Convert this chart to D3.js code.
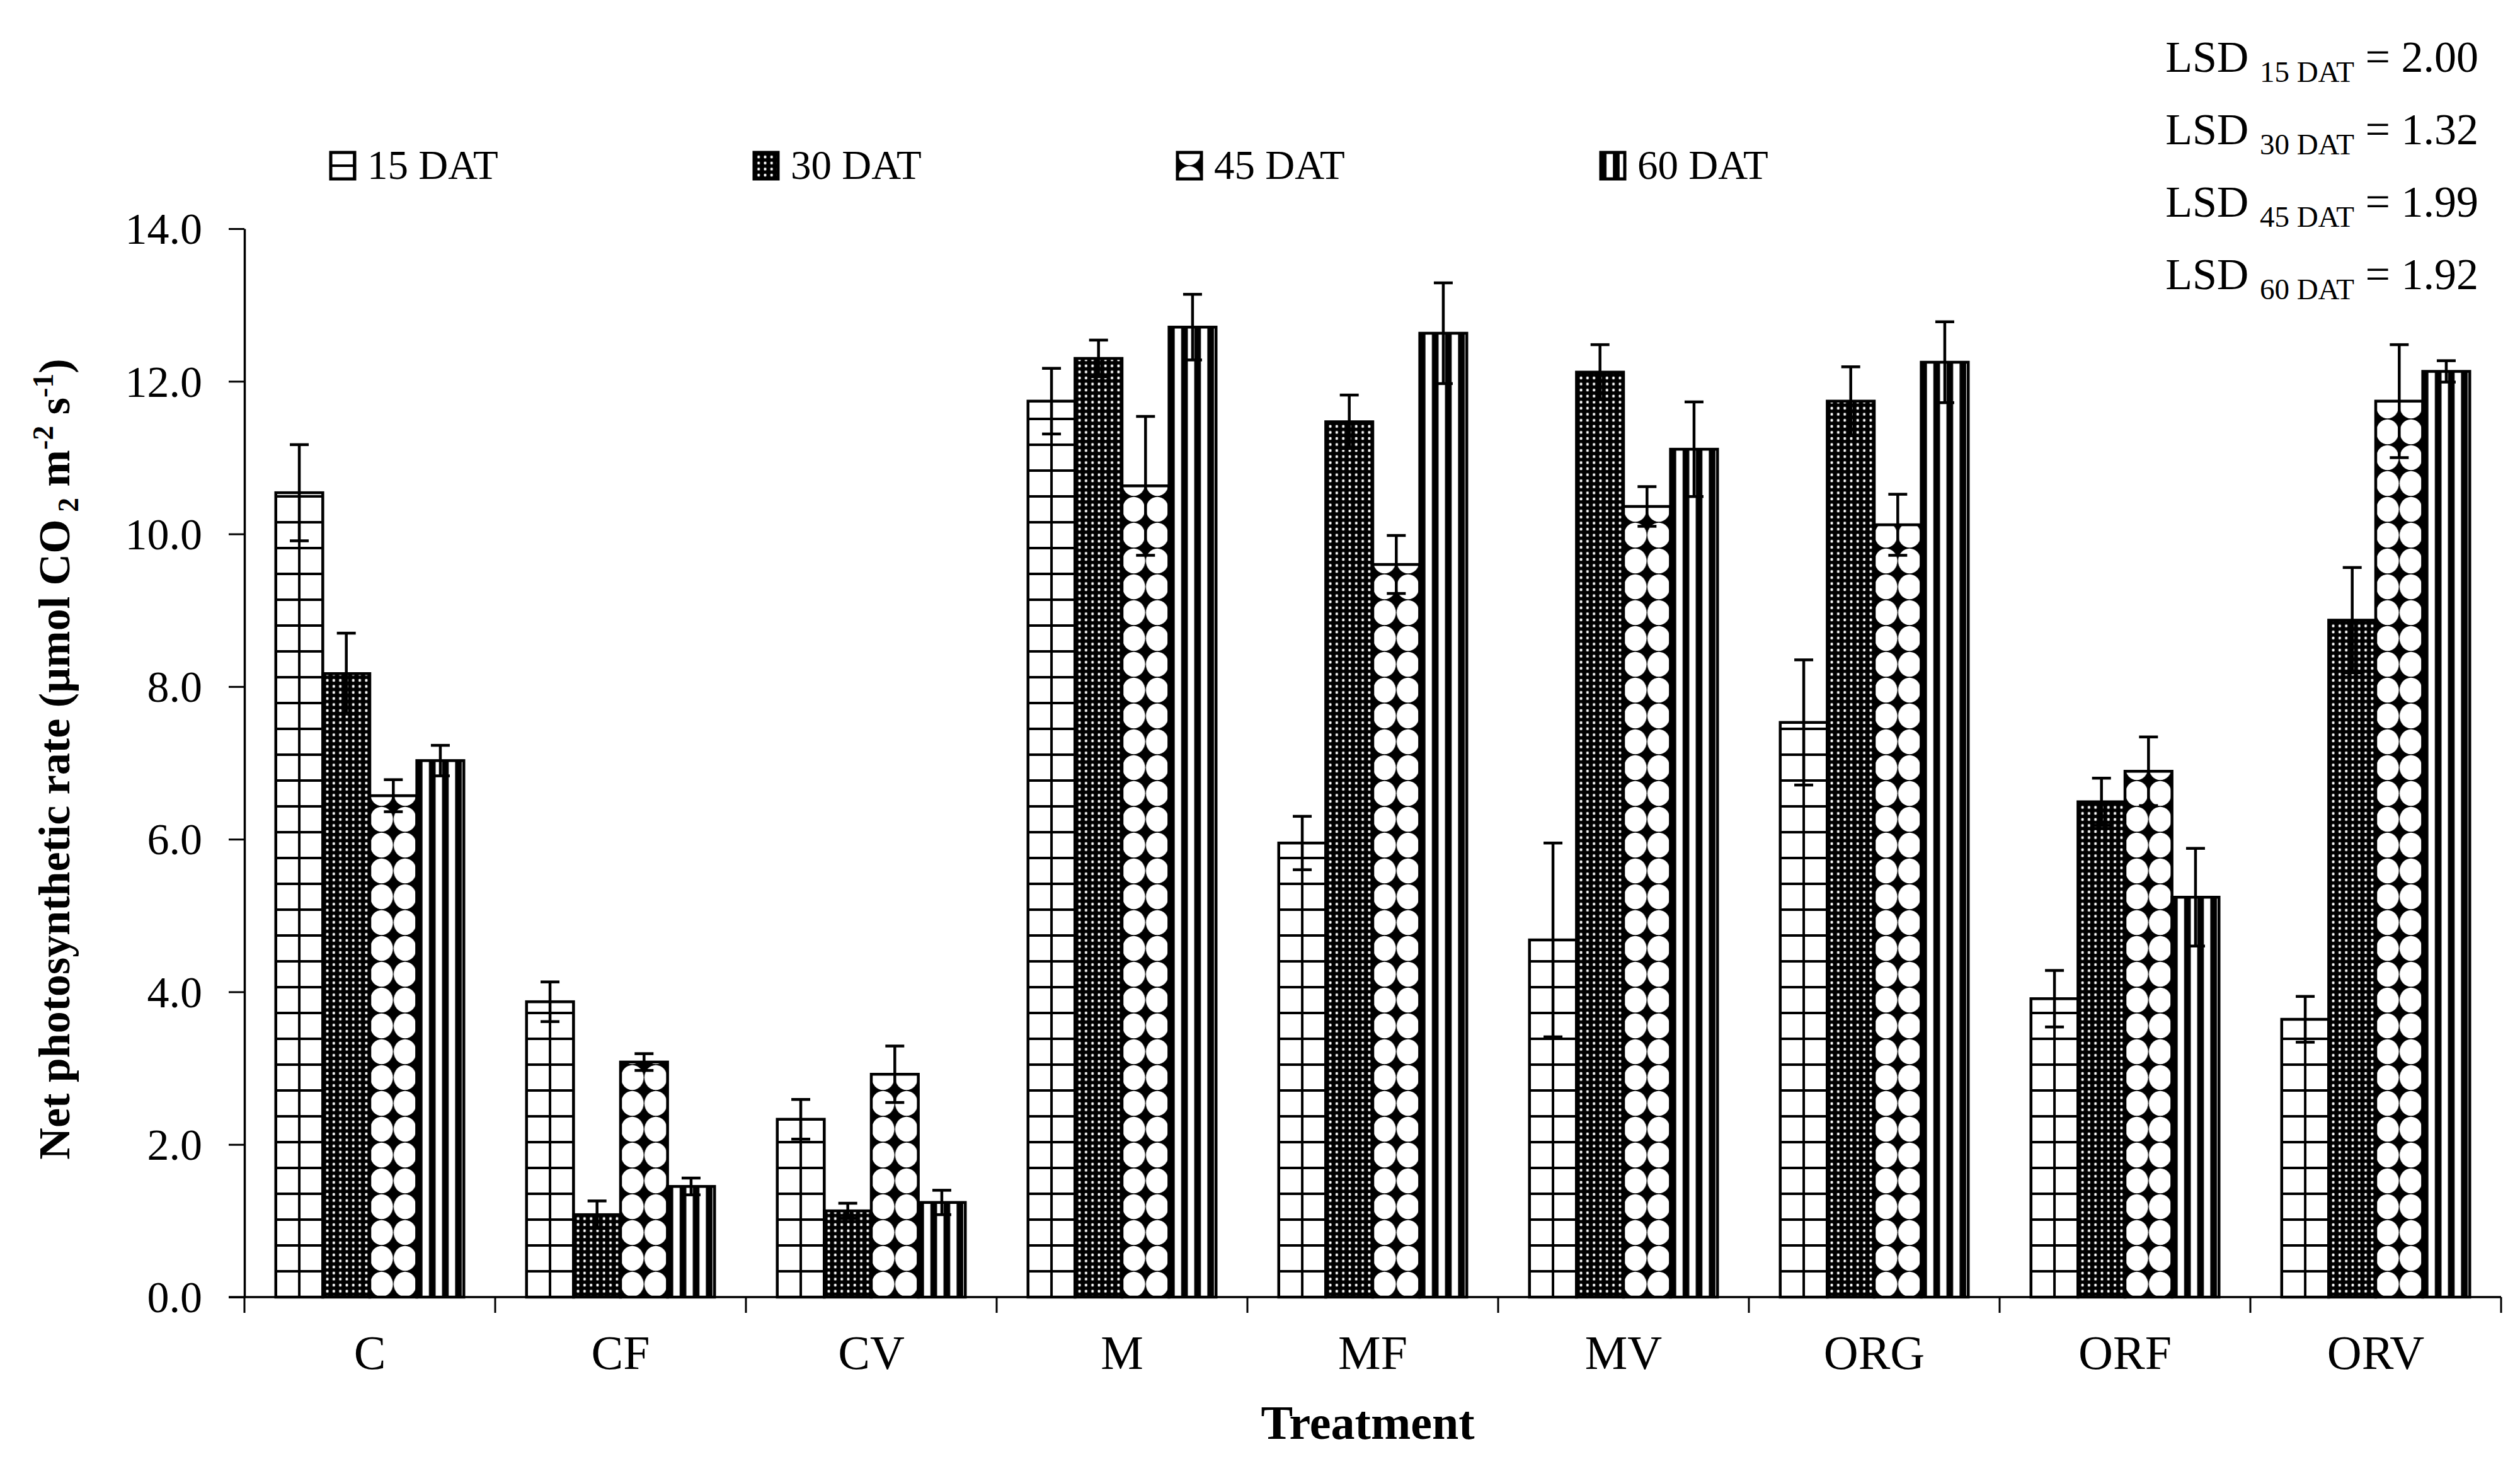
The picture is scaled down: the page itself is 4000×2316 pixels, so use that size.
<!DOCTYPE html>
<html>
<head>
<meta charset="utf-8">
<script src="https://cdn.jsdelivr.net/npm/d3@7"></script>
<style>
  html, body { margin: 0; padding: 0; background: #fff; }
  svg text { font-family: "Liberation Serif", "Times New Roman", serif; fill: #000; }
</style>
</head>
<body>
<svg id="chart" width="4000" height="2316"></svg>
<script>
// Data
const categories = ['C', 'CF', 'CV', 'M', 'MF', 'MV', 'ORG', 'ORF', 'ORV'];
const seriesNames = ['15 DAT', '30 DAT', '45 DAT', '60 DAT'];
const dat15 = [10.54, 3.87, 2.33, 11.74, 5.95, 4.68, 7.53, 3.91, 3.64];
const dat30 = [8.17, 1.08, 1.13, 12.30, 11.47, 12.12, 11.74, 6.49, 8.87];
const dat45 = [6.57, 3.08, 2.92, 10.63, 9.60, 10.36, 10.12, 6.89, 11.74];
const dat60 = [7.03, 1.45, 1.24, 12.71, 12.63, 11.11, 12.25, 5.24, 12.13];
const err15 = [0.63, 0.26, 0.26, 0.43, 0.35, 1.27, 0.82, 0.37, 0.30];
const err30 = [0.53, 0.18, 0.10, 0.24, 0.35, 0.36, 0.45, 0.31, 0.69];
const err45 = [0.21, 0.11, 0.37, 0.91, 0.38, 0.26, 0.40, 0.45, 0.74];
const err60 = [0.20, 0.11, 0.16, 0.43, 0.66, 0.62, 0.53, 0.64, 0.14];
const yTicks = [0, 2, 4, 6, 8, 10, 12, 14];
const lsdDays = ['15 DAT', '30 DAT', '45 DAT', '60 DAT'];
const lsdValues = ['2.00', '1.32', '1.99', '1.92'];

const values = [dat15, dat30, dat45, dat60];
const errors = [err15, err30, err45, err60];

const svg = d3.select('#chart');
const plot = { left: 388, right: 3970, top: 363, bottom: 2059 };

const x = d3.scaleBand()
    .domain(categories)
    .range([plot.left, plot.right])
    .paddingInner(0.25)
    .paddingOuter(0.125);

const x1 = d3.scaleBand()
    .domain(seriesNames)
    .range([0, x.bandwidth()]);

const y = d3.scaleLinear()
    .domain([0, 14])
    .range([plot.bottom, plot.top]);

const bw = x1.bandwidth();

// Fill patterns (black & white, like the original)
const defs = svg.append('defs');

// 15 DAT: open grid
const p15 = defs.append('pattern')
    .attr('id', 'pat0').attr('patternUnits', 'userSpaceOnUse')
    .attr('x', 0).attr('y', plot.bottom)
    .attr('width', bw / 2).attr('height', 41);
p15.append('rect').attr('width', bw / 2).attr('height', 41).attr('fill', '#fff');
p15.append('rect').attr('x', -2).attr('width', 4).attr('height', 41).attr('fill', '#000');
p15.append('rect').attr('x', bw / 2 - 2).attr('width', 4).attr('height', 41).attr('fill', '#000');
p15.append('rect').attr('y', -2).attr('width', bw / 2).attr('height', 4).attr('fill', '#000');
p15.append('rect').attr('y', 39).attr('width', bw / 2).attr('height', 4).attr('fill', '#000');

// 30 DAT: dense dark dots
const p30 = defs.append('pattern')
    .attr('id', 'pat1').attr('patternUnits', 'userSpaceOnUse')
    .attr('x', 2).attr('y', 0)
    .attr('width', 10.3).attr('height', 9.6);
p30.append('rect').attr('width', 10.3).attr('height', 9.6).attr('fill', '#000');
p30.append('rect').attr('x', 3.3).attr('y', 2.6).attr('width', 3.8).attr('height', 4.4)
    .attr('rx', 1.2).attr('fill', '#fff');

// 45 DAT: white round cells with black concave stars between
const p45 = defs.append('pattern')
    .attr('id', 'pat2').attr('patternUnits', 'userSpaceOnUse')
    .attr('x', 0).attr('y', plot.bottom)
    .attr('width', bw / 2).attr('height', 41);
p45.append('rect').attr('width', bw / 2).attr('height', 41).attr('fill', '#000');
p45.append('ellipse').attr('cx', bw / 4).attr('cy', 20.5)
    .attr('rx', bw / 4 - 0.6).attr('ry', 19.8).attr('fill', '#fff');

// 60 DAT: vertical stripes
const stripeP = 20.8;
const p60 = defs.append('pattern')
    .attr('id', 'pat3').attr('patternUnits', 'userSpaceOnUse')
    .attr('x', 24.5 - stripeP / 2).attr('y', 0)
    .attr('width', stripeP).attr('height', 20);
p60.append('rect').attr('width', stripeP).attr('height', 20).attr('fill', '#fff');
p60.append('rect').attr('x', stripeP / 2 - 5.3).attr('width', 10.6).attr('height', 20).attr('fill', '#000');

// Bars
seriesNames.forEach((s, si) => {
    categories.forEach((c, ci) => {
        const v = values[si][ci];
        const g = svg.append('g')
            .attr('class', 'bar')
            .attr('transform', `translate(${x(c) + x1(s)},0)`);
        g.append('rect')
            .attr('x', 0)
            .attr('y', y(v))
            .attr('width', bw)
            .attr('height', y(0) - y(v))
            .attr('fill', `url(#pat${si})`)
            .attr('stroke', '#000')
            .attr('stroke-width', 4.5);
    });
});

// Error bars
const capW = 30;
seriesNames.forEach((s, si) => {
    categories.forEach((c, ci) => {
        const v = values[si][ci], e = errors[si][ci];
        const cx = x(c) + x1(s) + bw / 2;
        const g = svg.append('g').attr('class', 'err')
            .attr('stroke', '#000').attr('stroke-width', 4.5);
        g.append('line').attr('x1', cx).attr('x2', cx).attr('y1', y(v + e)).attr('y2', y(v - e));
        g.append('line').attr('x1', cx - capW / 2).attr('x2', cx + capW / 2).attr('y1', y(v + e)).attr('y2', y(v + e));
        g.append('line').attr('x1', cx - capW / 2).attr('x2', cx + capW / 2).attr('y1', y(v - e)).attr('y2', y(v - e));
    });
});

// Y axis
const yAxis = svg.append('g')
    .attr('transform', `translate(${plot.left},0)`)
    .call(d3.axisLeft(y).tickValues(yTicks).tickFormat(d3.format('.1f'))
        .tickSize(25).tickSizeOuter(0).tickPadding(42));
yAxis.select('.domain').attr('stroke', '#000').attr('stroke-width', 3.5);
yAxis.selectAll('.tick line').attr('stroke', '#000').attr('stroke-width', 3);
yAxis.selectAll('.tick text')
    .style('font-family', '"Liberation Serif", serif')
    .style('font-size', '70px')
    .attr('dy', '0.34em');

// X axis: labels under groups, ticks between groups
const xAxis = svg.append('g')
    .attr('transform', `translate(0,${plot.bottom})`)
    .call(d3.axisBottom(x).tickSize(0).tickPadding(60));
xAxis.select('.domain').remove();
xAxis.selectAll('.tick text')
    .style('font-family', '"Liberation Serif", serif')
    .style('font-size', '76px');

svg.append('line')
    .attr('x1', plot.left - 25).attr('x2', plot.right)
    .attr('y1', plot.bottom).attr('y2', plot.bottom)
    .attr('stroke', '#000').attr('stroke-width', 3.5);

const boundaries = d3.range(categories.length + 1).map(i => plot.left + i * x.step());
svg.append('g').selectAll('line')
    .data(boundaries)
    .join('line')
    .attr('x1', d => d).attr('x2', d => d)
    .attr('y1', plot.bottom).attr('y2', plot.bottom + 25)
    .attr('stroke', '#000').attr('stroke-width', 3);

// Axis titles
svg.append('text')
    .attr('x', (plot.left + plot.right) / 2 - 8)
    .attr('y', 2284)
    .attr('text-anchor', 'middle')
    .style('font-size', '76px')
    .style('font-weight', 'bold')
    .text('Treatment');

const yTitle = svg.append('text')
    .attr('transform', `translate(110,${(plot.top + plot.bottom) / 2 - 6}) rotate(-90)`)
    .attr('text-anchor', 'middle')
    .style('font-size', '70px')
    .style('font-weight', 'bold');
yTitle.append('tspan').text('Net photosynthetic rate (µmol CO');
yTitle.append('tspan').attr('dy', 14).style('font-size', '46px').text(' 2');
yTitle.append('tspan').attr('dy', -14).text(' m');
yTitle.append('tspan').attr('dy', -26).style('font-size', '46px').text('-2');
yTitle.append('tspan').attr('dy', 26).text(' s');
yTitle.append('tspan').attr('dy', -26).style('font-size', '46px').text('-1');
yTitle.append('tspan').attr('dy', 26).text(')');

// Legend
seriesNames.forEach((s, i) => {
    const lx = 525 + i * 672;
    const g = svg.append('g').attr('transform', `translate(${lx},254)`);
    g.append('rect')
        .attr('x', 0).attr('y', -12)
        .attr('width', 38).attr('height', 42)
        .attr('fill', `url(#pat${i})`)
        .attr('stroke', '#000').attr('stroke-width', 5);
    svg.append('text')
        .attr('x', lx + 58).attr('y', 284)
        .style('font-size', '65px')
        .text(s);
});

// LSD annotation
lsdDays.forEach((d, i) => {
    const t = svg.append('text')
        .attr('x', 3934)
        .attr('y', 114 + i * 115)
        .attr('text-anchor', 'end')
        .style('font-size', '70px');
    t.append('tspan').text('LSD ');
    t.append('tspan').attr('dy', 16).style('font-size', '47px').text(d);
    t.append('tspan').attr('dy', -16).text(' = ' + lsdValues[i]);
});
</script>
</body>
</html>
